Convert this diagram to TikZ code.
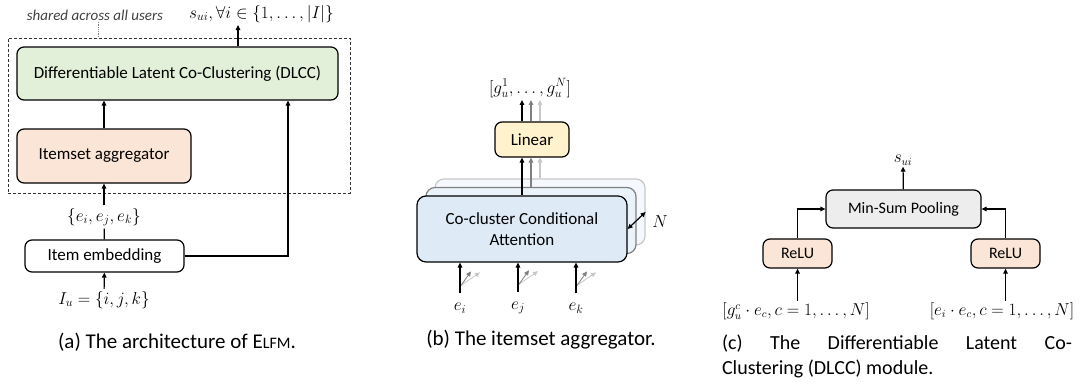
\documentclass[tikz,border=0pt]{standalone}
\usepackage{fontspec}
\setmainfont{Carlito}
\usetikzlibrary{graphs}
\usetikzlibrary{calc}
\usetikzlibrary{arrows.meta}
\definecolor{dlccgreen}{HTML}{E2F0D9}
\definecolor{aggpink}{HTML}{FBE5D6}
\definecolor{linyellow}{HTML}{FFF2CC}
\definecolor{ccablue}{HTML}{DEEBF7}
\definecolor{poolgray}{HTML}{EDEDED}
\tikzset{
  box/.style= {draw, rounded corners=7, line width=1.2, align=center, inner sep=0, font=\fontsize{17}{21}\selectfont},
  smallbox/.style= {box, font=\fontsize{16}{20}\selectfont},
  layer/.style= {box, rounded corners=9, minimum width=210, minimum height=66},
  lab/.style= {inner sep=2, font=\fontsize{17}{21}\selectfont},
  smalllab/.style= {lab, inner sep=1, font=\fontsize{16}{20}\selectfont},
  inlab/.style= {lab, inner ysep=9},
  note/.style= {inner sep=1, text=black!75, font=\itshape\fontsize{15}{18}\selectfont},
  subcap/.style= {inner sep=0, font=\fontsize{21}{25}\selectfont},
  sharedbox/.style= {draw, black!80, line width=0.8, dash pattern=on 3pt off 2pt, minimum width=342, minimum height=155},
  >={Triangle[length=5pt,width=4.5pt]},
}

\begin{document}
\begin{tikzpicture}[x=1pt, y=-1pt, line width=1.2]
  \useasboundingbox (0,0) rectangle (1083,383);

  % (a) architecture
  \node [sharedbox] (shared) at (179,115.5) {};
  \node [box, fill=dlccgreen, minimum width=321, minimum height=53] (dlcc) at (177.5,73.5) {Differentiable Latent Co-Clustering (DLCC)};
  \node [box, fill=aggpink, minimum width=174, minimum height=54] (agg) at (104,156) {Itemset aggregator};
  \node [box, minimum width=159, minimum height=32] (embed) at (104.5,256) {Item embedding};
  \node [lab] (items) at (104,217) {$\{e_i, e_j, e_k\}$};
  \node [lab] (iu) at (104,300) {$I_u = \{i, j, k\}$};
  \node [lab] (score) at (261.5,14) {$s_{ui}, \forall i \in \{1, \dots, |I|\}$};
  \node [note] (sharednote) at (95,15) {shared across all users};
  \coordinate (scoretip) at (238,25);
  \coordinate (sharedtop) at (98,38);
  \coordinate (bypass) at (288,0);

  \graph {
    (iu) -> (embed) -- (items) -> (agg);
  };
  \draw [->] (agg) -- (agg |- dlcc.south);
  \draw [->] (embed) -| (bypass |- dlcc.south);
  \draw [->] (dlcc.north -| scoretip) -- (scoretip);
  \draw [densely dotted, line width=0.8, gray] (sharednote.south -| sharedtop) -- (sharedtop);

  % (b) itemset aggregator
  \node [layer, draw=black!22, fill=ccablue!30] (layer3) at (540,212) {};
  \node [layer, draw=black!50, fill=ccablue!60] (layer2) at (531,220.5) {};
  \node [layer, fill=ccablue] (cca) at (522,229) {Co-cluster Conditional\\Attention};
  \node [box, fill=linyellow, minimum width=74, minimum height=35] (linear) at (532,139.5) {Linear};
  \node [lab] (gout) at (530,88) {$[g_u^1, \dots, g_u^N]$};
  \node [lab] (nlab) at (660,222) {$N$};
  \node [inlab] (ei) at (460,308) {$e_i$};
  \node [inlab] (ej) at (518,308) {$e_j$};
  \node [inlab] (ek) at (576,308) {$e_k$};

  \draw [->, black!22] (layer3) -- (layer3 |- linear.south);
  \draw [->, black!50] (layer2) -- (layer2 |- linear.south);
  \draw [->] (cca) -- (cca |- linear.south);
  \draw [->, black!22] (linear.north -| layer3) -- (gout.south -| layer3);
  \draw [->, black!50] (linear.north -| layer2) -- (gout.south -| layer2);
  \draw [->] (linear.north -| cca) -- (gout.south -| cca);
  \draw [<->] (cca.east) -- (layer3.east);
  \foreach \e in {ei, ej, ek} {
    \draw [->, black!22, line width=0.8] ($(\e.north)+(1,-8)$) -- ++(19,-13);
    \draw [->, black!50, line width=0.8] ($(\e.north)+(1,-8)$) -- ++(10,-14);
    \draw [->] (\e) -- (\e |- cca.south);
  }

  % (c) DLCC module
  \node [smallbox, fill=poolgray, minimum width=155, minimum height=38] (pool) at (903.5,209) {Min-Sum Pooling};
  \node [smallbox, fill=aggpink, minimum width=69, minimum height=29] (relua) at (797.5,253.5) {ReLU};
  \node [smallbox, fill=aggpink, minimum width=69, minimum height=29] (relub) at (1005.5,253.5) {ReLU};
  \node [smalllab] (sui) at (903,160) {$s_{ui}$};
  \node [smalllab] (gprod) at (796,311) {$[g_u^c \cdot e_c, c = 1, \dots, N]$};
  \node [smalllab] (eprod) at (1002,311) {$[e_i \cdot e_c, c = 1, \dots, N]$};

  \draw [->] (pool) -- (sui);
  \draw [->] (relua) |- (pool);
  \draw [->] (relub) |- (pool);
  \draw [->] (gprod.north -| relua) -- (relua);
  \draw [->] (eprod.north -| relub) -- (relub);

  % captions
  \node [subcap] (capa) at (177,342) {(a) The architecture of E{\fontsize{16}{25}\selectfont LFM}.};
  \node [subcap] (capb) at (541,340) {(b) The itemset aggregator.};
  \node [subcap, text width=350, align=justify, font=\fontsize{20}{25}\selectfont] (capc) at (897,356) {(c) The Differentiable Latent Co-\linebreak Clustering (DLCC) module.};
\end{tikzpicture}
\end{document}
